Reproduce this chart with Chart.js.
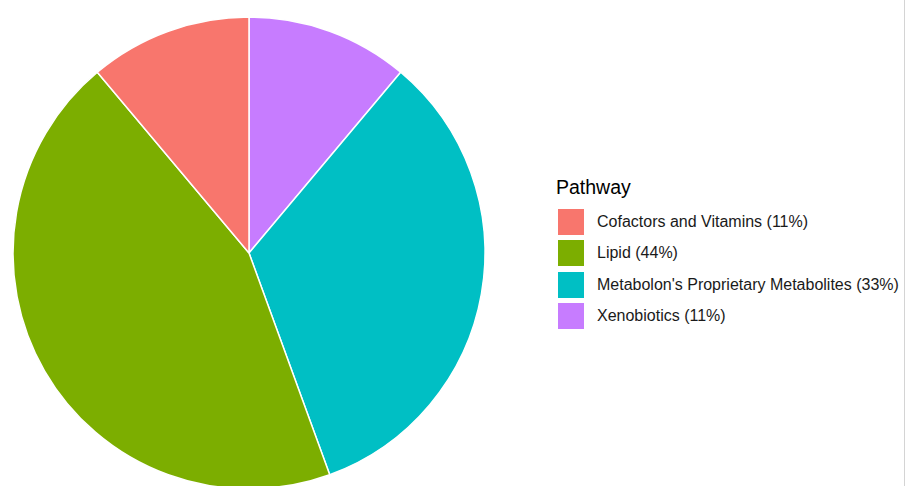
<!DOCTYPE html>
<html>
<head>
<meta charset="utf-8">
<script src="https://cdn.jsdelivr.net/npm/chart.js@4"></script>
<style>
  html, body { margin: 0; padding: 0; background: #fff; overflow: hidden; }
  #page { position: relative; width: 906px; height: 486px; overflow: hidden; }
  #edge { position: absolute; left: 904px; top: 0; width: 1px; height: 486px; background: #d4d4d4; }
  #wrap { position: absolute; left: 0; top: 0; width: 498px; height: 506px; }
  #legend { position: absolute; left: 556px; top: 174px; font-family: "Liberation Sans", Arial, sans-serif; color: #000; }
  #legend .title { font-size: 19.5px; height: 32px; line-height: 26px; }
  #legend .row { display: flex; align-items: center; height: 31.5px; }
  #legend .key { width: 28px; height: 28px; box-sizing: border-box; border: 1px solid #fff; margin-left: 1px; margin-right: 12px; }
  #legend .lab { font-size: 16px; color: #1a1a1a; }
</style>
</head>
<body>
<div id="page">
  <div id="wrap"><canvas id="chart"></canvas></div>
  <div id="legend"></div>
  <div id="edge"></div>
</div>
<script>
// pathways in legend order, share of metabolites (%)
var pathways = ['Cofactors and Vitamins', 'Lipid', "Metabolon's Proprietary Metabolites", 'Xenobiotics'];
var shares = [11, 44, 33, 11];
var colors = ['#F8766D', '#7CAE00', '#00BFC4', '#C77CFF'];
var legendTitle = 'Pathway';

// ggplot draws these counter-clockwise from 12 o'clock, Chart.js goes clockwise -> reverse
var labels = pathways.map(function(p, i) { return p + ' (' + shares[i] + '%)'; });
var revLabels = labels.slice().reverse();
var revShares = shares.slice().reverse();
var revColors = colors.slice().reverse();

let chart = new Chart('chart', {
  type: 'pie',
  data: {
    labels: revLabels,
    datasets: [{
      data: revShares,
      backgroundColor: revColors,
      borderColor: '#ffffff',
      borderWidth: 1.5,
      radius: 236
    }]
  },
  options: {
    responsive: true,
    maintainAspectRatio: false,
    animation: false,
    layout: { padding: 0 },
    plugins: {
      legend: { display: false },
      tooltip: { enabled: false }
    }
  }
});

// legend, built from the same arrays
var lg = document.getElementById('legend');
var t = document.createElement('div');
t.className = 'title';
t.textContent = legendTitle;
lg.appendChild(t);
for (var i = 0; i < labels.length; i++) {
  var row = document.createElement('div');
  row.className = 'row';
  var k = document.createElement('div');
  k.className = 'key';
  k.style.background = colors[i];
  var s = document.createElement('span');
  s.className = 'lab';
  s.textContent = labels[i];
  row.appendChild(k);
  row.appendChild(s);
  lg.appendChild(row);
}
</script>
</body>
</html>
